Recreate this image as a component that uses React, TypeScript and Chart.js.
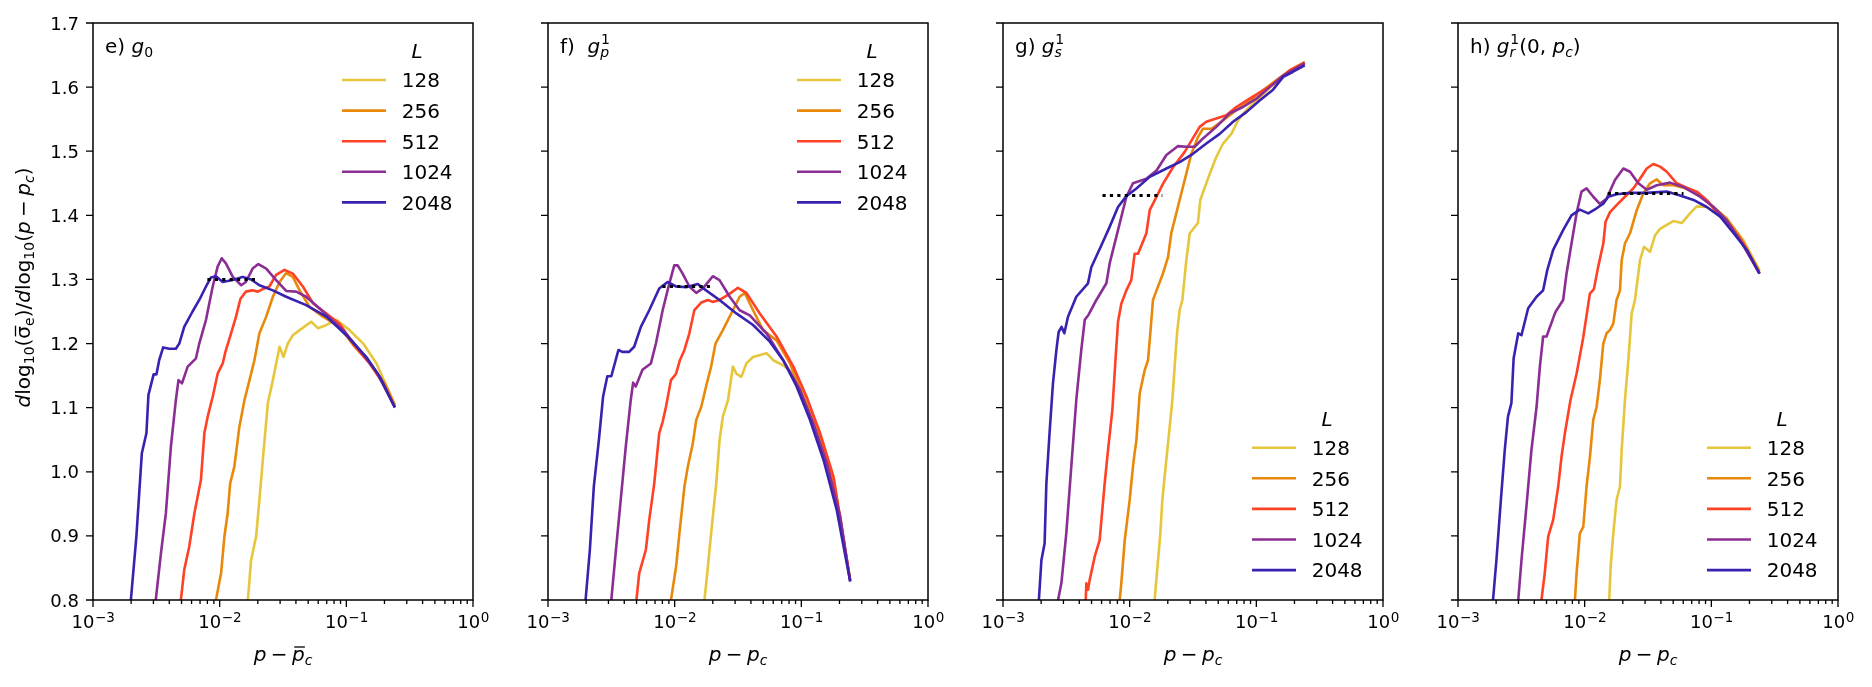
import { useEffect, useRef } from 'react';
import { Chart, registerables } from 'chart.js';

Chart.register(...registerables);

type Pt = [number, number];

// System sizes L and their line colours
const SIZE_LABELS = ['128', '256', '512', '1024', '2048'];
const SIZE_COLORS = ['#e6c63c', '#e8890c', '#ff4125', '#8b2e94', '#3a22b0'];

// Axis ticks
const X_TICKS = [1e-3, 1e-2, 1e-1, 1];
const X_TICK_EXPONENTS = ['−3', '−2', '−1', '0'];
const Y_TICKS = [0.8, 0.9, 1.0, 1.1, 1.2, 1.3, 1.4, 1.5, 1.6, 1.7];
const Y_TICK_LABELS = ['0.8', '0.9', '1.0', '1.1', '1.2', '1.3', '1.4', '1.5', '1.6', '1.7'];

// ---- e) g0 : local slope vs p - pbar_c ----
const G0_128: Pt[] = [[0.0167,0.8],[0.0177,0.862],[0.0194,0.899],[0.0206,0.956],[0.0219,1.018],[0.024,1.107],[0.0263,1.143],[0.0297,1.195],[0.0319,1.179],[0.0345,1.2],[0.0378,1.213],[0.0428,1.221],[0.0528,1.234],[0.0597,1.224],[0.0695,1.229],[0.0834,1.237],[0.106,1.221],[0.136,1.2],[0.173,1.169],[0.2415,1.104]];
const G0_256: Pt[] = [[0.00935,0.8],[0.01026,0.842],[0.0109,0.899],[0.01156,0.935],[0.0121,0.982],[0.01306,1.008],[0.0143,1.07],[0.0157,1.112],[0.0172,1.143],[0.0188,1.174],[0.0206,1.216],[0.0233,1.242],[0.0263,1.273],[0.0297,1.296],[0.0335,1.31],[0.0378,1.304],[0.0428,1.283],[0.0513,1.257],[0.0653,1.242],[0.0885,1.226],[0.113,1.198],[0.153,1.169],[0.201,1.138],[0.2415,1.104]];
const G0_512: Pt[] = [[0.00494,0.8],[0.00525,0.847],[0.00575,0.883],[0.00631,0.935],[0.00711,0.987],[0.00757,1.06],[0.00804,1.086],[0.00881,1.117],[0.00964,1.153],[0.01057,1.169],[0.0111,1.187],[0.0123,1.216],[0.01346,1.242],[0.0146,1.27],[0.0161,1.281],[0.0182,1.283],[0.02,1.281],[0.0219,1.285],[0.0247,1.289],[0.0279,1.307],[0.0325,1.315],[0.0378,1.309],[0.0454,1.289],[0.0545,1.263],[0.0695,1.247],[0.0885,1.231],[0.113,1.2],[0.153,1.169],[0.195,1.138],[0.2415,1.101]];
const G0_1024: Pt[] = [[0.00313,0.8],[0.00344,0.873],[0.00376,0.935],[0.00412,1.039],[0.00451,1.112],[0.00473,1.143],[0.00504,1.138],[0.00559,1.164],[0.0065,1.177],[0.0069,1.2],[0.0078,1.237],[0.00881,1.289],[0.00964,1.32],[0.01038,1.333],[0.0112,1.325],[0.0127,1.304],[0.0148,1.291],[0.0161,1.296],[0.0182,1.317],[0.0202,1.324],[0.0233,1.317],[0.0279,1.299],[0.0335,1.282],[0.0402,1.281],[0.0482,1.273],[0.0653,1.25],[0.0942,1.221],[0.1276,1.19],[0.1726,1.156],[0.2415,1.101]];
const G0_2048: Pt[] = [[0.00199,0.8],[0.0022,0.899],[0.00243,1.029],[0.00264,1.06],[0.00274,1.12],[0.00301,1.152],[0.00317,1.152],[0.00333,1.174],[0.00358,1.194],[0.004,1.192],[0.00451,1.192],[0.0048,1.2],[0.00525,1.226],[0.00611,1.25],[0.0069,1.268],[0.0078,1.289],[0.00853,1.303],[0.00935,1.305],[0.01057,1.296],[0.0127,1.299],[0.0152,1.304],[0.0177,1.3],[0.0206,1.291],[0.0263,1.283],[0.0335,1.273],[0.0482,1.26],[0.0695,1.242],[0.1,1.213],[0.144,1.179],[0.184,1.148],[0.2415,1.1]];
const G0_PLATEAU: Pt[] = [[0.008,1.3],[0.02,1.3]];

// ---- f) g_p^1 ----
const GP_128: Pt[] = [[0.0172,0.8],[0.0183,0.852],[0.0194,0.904],[0.0213,0.982],[0.0226,1.049],[0.024,1.086],[0.0264,1.112],[0.0288,1.164],[0.0307,1.153],[0.0336,1.148],[0.0368,1.169],[0.0416,1.179],[0.0531,1.185],[0.06,1.174],[0.0719,1.166],[0.0865,1.153],[0.11,1.112],[0.1406,1.06],[0.1795,0.992],[0.243,0.831]];
const GP_256: Pt[] = [[0.00935,0.8],[0.01026,0.852],[0.0109,0.904],[0.01194,0.977],[0.0127,1.008],[0.0139,1.044],[0.0148,1.081],[0.0162,1.101],[0.0177,1.133],[0.0194,1.164],[0.021,1.2],[0.024,1.221],[0.028,1.247],[0.0326,1.273],[0.0357,1.279],[0.0416,1.252],[0.0499,1.221],[0.0637,1.205],[0.0813,1.169],[0.1038,1.117],[0.1324,1.065],[0.169,1.003],[0.243,0.831]];
const GP_512: Pt[] = [[0.00499,0.8],[0.00525,0.842],[0.00592,0.878],[0.0063,0.925],[0.0069,0.982],[0.00755,1.06],[0.00804,1.078],[0.00853,1.101],[0.00935,1.143],[0.01026,1.153],[0.011,1.174],[0.01194,1.19],[0.01306,1.216],[0.0143,1.252],[0.0162,1.264],[0.0183,1.268],[0.02,1.265],[0.0226,1.268],[0.0264,1.276],[0.0316,1.287],[0.0368,1.279],[0.047,1.247],[0.0637,1.211],[0.0865,1.164],[0.11,1.117],[0.1406,1.06],[0.1795,0.992],[0.243,0.831]];
const GP_1024: Pt[] = [[0.00316,0.8],[0.00342,0.873],[0.00375,0.956],[0.00411,1.039],[0.0045,1.112],[0.0047,1.139],[0.00493,1.133],[0.00557,1.159],[0.00649,1.169],[0.00711,1.2],[0.00804,1.252],[0.00908,1.294],[0.00993,1.322],[0.01057,1.322],[0.01156,1.309],[0.01306,1.289],[0.0148,1.279],[0.0167,1.286],[0.02,1.305],[0.0226,1.299],[0.0272,1.273],[0.0326,1.252],[0.0392,1.244],[0.0531,1.216],[0.0719,1.174],[0.0975,1.128],[0.1245,1.075],[0.159,1.013],[0.203,0.93],[0.243,0.829]];
const GP_2048: Pt[] = [[0.00198,0.8],[0.00214,0.878],[0.0023,0.977],[0.00252,1.049],[0.00272,1.117],[0.00294,1.149],[0.00316,1.149],[0.0036,1.19],[0.00386,1.187],[0.00437,1.187],[0.00479,1.195],[0.00541,1.226],[0.0063,1.252],[0.00755,1.286],[0.00879,1.296],[0.01026,1.289],[0.0123,1.288],[0.0152,1.293],[0.0177,1.283],[0.0226,1.268],[0.0307,1.247],[0.0416,1.229],[0.0564,1.203],[0.0719,1.174],[0.0918,1.133],[0.117,1.081],[0.15,1.018],[0.1905,0.94],[0.243,0.829]];
const GP_PLATEAU: Pt[] = [[0.008,1.289],[0.02,1.289]];

// ---- g) g_s^1 ----
const GS_128: Pt[] = [[0.01574,0.8],[0.01746,0.904],[0.01811,0.956],[0.01923,1.008],[0.02046,1.06],[0.02173,1.112],[0.02265,1.164],[0.02366,1.216],[0.0248,1.252],[0.02606,1.268],[0.028,1.33],[0.0298,1.372],[0.0346,1.388],[0.0361,1.424],[0.0429,1.465],[0.0483,1.491],[0.0546,1.512],[0.0635,1.527],[0.0716,1.548],[0.0834,1.564],[0.1,1.579],[0.1274,1.599],[0.163,1.617],[0.241,1.639]];
const GS_256: Pt[] = [[0.00834,0.8],[0.00859,0.826],[0.00914,0.893],[0.01,0.956],[0.01062,1.008],[0.01094,1.029],[0.0113,1.049],[0.012,1.122],[0.01312,1.158],[0.01396,1.174],[0.0144,1.205],[0.01528,1.268],[0.0163,1.283],[0.0183,1.309],[0.0201,1.335],[0.0213,1.372],[0.02265,1.393],[0.0248,1.424],[0.028,1.465],[0.0307,1.496],[0.0346,1.522],[0.0379,1.535],[0.0442,1.535],[0.0546,1.548],[0.0695,1.564],[0.0885,1.579],[0.113,1.595],[0.144,1.611],[0.183,1.626],[0.241,1.639]];
const GS_512: Pt[] = [[0.0045,0.8],[0.00455,0.826],[0.00469,0.816],[0.00483,0.831],[0.0053,0.868],[0.00579,0.893],[0.00635,0.982],[0.00675,1.034],[0.0073,1.096],[0.00775,1.179],[0.00809,1.234],[0.00859,1.262],[0.00942,1.283],[0.0103,1.299],[0.01094,1.34],[0.01164,1.34],[0.01355,1.372],[0.0144,1.408],[0.0163,1.429],[0.0183,1.449],[0.022,1.475],[0.0272,1.499],[0.0357,1.538],[0.0403,1.546],[0.0483,1.551],[0.0579,1.556],[0.0695,1.569],[0.0885,1.582],[0.113,1.595],[0.144,1.608],[0.183,1.626],[0.241,1.638]];
const GS_1024: Pt[] = [[0.00272,0.8],[0.00289,0.826],[0.00316,0.904],[0.00346,1.008],[0.00379,1.112],[0.00415,1.19],[0.00442,1.237],[0.00474,1.245],[0.00546,1.268],[0.00655,1.294],[0.00695,1.325],[0.00809,1.377],[0.00942,1.429],[0.01062,1.45],[0.01355,1.457],[0.0163,1.47],[0.0195,1.494],[0.0241,1.508],[0.028,1.507],[0.0326,1.507],[0.0379,1.52],[0.0483,1.538],[0.0615,1.559],[0.0785,1.569],[0.1,1.582],[0.1274,1.6],[0.163,1.618],[0.241,1.637]];
const GS_2048: Pt[] = [[0.00192,0.8],[0.00201,0.862],[0.00213,0.888],[0.0022,0.982],[0.00233,1.06],[0.00248,1.138],[0.00264,1.19],[0.00275,1.218],[0.0029,1.226],[0.00305,1.216],[0.00326,1.242],[0.00379,1.273],[0.00469,1.294],[0.00498,1.319],[0.00597,1.353],[0.00695,1.382],[0.00809,1.413],[0.00942,1.43],[0.0113,1.442],[0.0144,1.46],[0.0195,1.473],[0.0248,1.483],[0.0316,1.496],[0.0403,1.512],[0.0514,1.527],[0.0655,1.546],[0.0834,1.561],[0.1062,1.579],[0.1355,1.596],[0.163,1.616],[0.195,1.624],[0.241,1.634]];
const GS_PLATEAU: Pt[] = [[0.0061,1.431],[0.0181,1.431]];

// ---- h) g_r^1(0, p_c) ----
const GR_128: Pt[] = [[0.01563,0.8],[0.01603,0.852],[0.01683,0.904],[0.01786,0.956],[0.019,0.977],[0.0196,1.034],[0.0208,1.112],[0.02213,1.174],[0.0235,1.247],[0.02495,1.268],[0.02735,1.33],[0.0294,1.351],[0.0328,1.343],[0.036,1.369],[0.0394,1.379],[0.0445,1.385],[0.0501,1.391],[0.0583,1.388],[0.0679,1.403],[0.0767,1.414],[0.092,1.413],[0.1104,1.403],[0.1409,1.387],[0.1795,1.361],[0.24,1.314]];
const GR_256: Pt[] = [[0.00838,0.8],[0.00863,0.842],[0.00916,0.904],[0.00975,0.914],[0.01035,0.977],[0.011,1.023],[0.01169,1.081],[0.01242,1.101],[0.01318,1.143],[0.01403,1.2],[0.01489,1.216],[0.01581,1.221],[0.01683,1.231],[0.01786,1.268],[0.019,1.283],[0.0196,1.33],[0.0208,1.356],[0.0228,1.372],[0.02576,1.408],[0.029,1.434],[0.0328,1.45],[0.0371,1.456],[0.0418,1.447],[0.0501,1.447],[0.064,1.442],[0.0815,1.431],[0.104,1.413],[0.1324,1.395],[0.169,1.366],[0.24,1.312]];
const GR_512: Pt[] = [[0.00456,0.8],[0.00484,0.842],[0.00515,0.899],[0.00564,0.925],[0.00618,0.977],[0.00656,1.023],[0.00698,1.06],[0.00773,1.112],[0.00863,1.153],[0.00975,1.21],[0.011,1.278],[0.01183,1.285],[0.01279,1.32],[0.01403,1.356],[0.01462,1.39],[0.01585,1.405],[0.01786,1.416],[0.0208,1.429],[0.0242,1.442],[0.02735,1.457],[0.0309,1.473],[0.0348,1.48],[0.0394,1.476],[0.0445,1.468],[0.0533,1.45],[0.064,1.443],[0.0767,1.437],[0.092,1.424],[0.1104,1.405],[0.1409,1.382],[0.1795,1.356],[0.24,1.309]];
const GR_1024: Pt[] = [[0.00299,0.8],[0.00317,0.862],[0.00347,0.946],[0.0038,1.034],[0.00417,1.101],[0.00443,1.164],[0.0047,1.211],[0.005,1.211],[0.00582,1.247],[0.006,1.252],[0.00676,1.268],[0.00719,1.309],[0.00787,1.356],[0.00863,1.403],[0.00944,1.437],[0.01035,1.442],[0.01169,1.429],[0.01318,1.418],[0.01489,1.426],[0.01734,1.455],[0.0202,1.473],[0.0228,1.468],[0.02655,1.45],[0.0309,1.44],[0.0371,1.447],[0.0472,1.451],[0.0603,1.444],[0.0815,1.429],[0.104,1.413],[0.1324,1.392],[0.169,1.361],[0.24,1.309]];
const GR_2048: Pt[] = [[0.00189,0.8],[0.00201,0.862],[0.00218,0.956],[0.00234,1.034],[0.00248,1.086],[0.00264,1.107],[0.00275,1.177],[0.00299,1.216],[0.00317,1.213],[0.00358,1.255],[0.00417,1.273],[0.0047,1.283],[0.00506,1.314],[0.00564,1.346],[0.00676,1.377],[0.00787,1.4],[0.00916,1.409],[0.01067,1.403],[0.01242,1.411],[0.01403,1.418],[0.01535,1.429],[0.01786,1.433],[0.0228,1.435],[0.0309,1.435],[0.0445,1.437],[0.0566,1.431],[0.0723,1.424],[0.092,1.413],[0.1175,1.398],[0.15,1.372],[0.1905,1.346],[0.24,1.309]];
const GR_PLATEAU: Pt[] = [[0.0152,1.434],[0.0603,1.434]];

// ---- rich text (italic / sub / sup / overbar) ----
type Seg =
  | { t: string; it?: boolean; sub?: boolean; sup?: boolean; bar?: boolean }
  | { gap: number }
  | { stackSup: string; stackSub: string; subIt?: boolean };

const FAMILY = '"DejaVu Sans", sans-serif';
const fontStr = (size: number, it?: boolean) => `${it ? 'italic ' : ''}${size}px ${FAMILY}`;

function segWidth(ctx: CanvasRenderingContext2D, s: Seg, size: number): number {
  if ('gap' in s) return s.gap * size;
  if ('stackSup' in s) {
    ctx.font = fontStr(size * 0.7);
    const a = ctx.measureText(s.stackSup).width;
    ctx.font = fontStr(size * 0.7, s.subIt);
    const b = ctx.measureText(s.stackSub).width;
    return Math.max(a, b) + 0.04 * size;
  }
  ctx.font = fontStr(s.sub || s.sup ? size * 0.7 : size, s.it);
  return ctx.measureText(s.t).width;
}

function richWidth(ctx: CanvasRenderingContext2D, segs: Seg[], size: number) {
  return segs.reduce((w, s) => w + segWidth(ctx, s, size), 0);
}

function drawRich(ctx: CanvasRenderingContext2D, segs: Seg[], x: number, y: number, size: number) {
  let cx = x;
  ctx.textAlign = 'left';
  ctx.textBaseline = 'alphabetic';
  for (const s of segs) {
    const w = segWidth(ctx, s, size);
    if ('gap' in s) {
      cx += w;
      continue;
    }
    if ('stackSup' in s) {
      ctx.font = fontStr(size * 0.7);
      ctx.fillText(s.stackSup, cx + 0.04 * size, y - 0.45 * size);
      ctx.font = fontStr(size * 0.7, s.subIt);
      ctx.fillText(s.stackSub, cx, y + 0.22 * size);
    } else {
      const small = s.sub || s.sup;
      const dy = s.sub ? 0.2 * size : s.sup ? -0.42 * size : 0;
      ctx.font = fontStr(small ? size * 0.7 : size, s.it);
      ctx.fillText(s.t, cx, y + dy);
      if (s.bar) {
        const by = y + dy - 0.7 * size;
        ctx.save();
        ctx.lineWidth = 1.3;
        ctx.beginPath();
        ctx.moveTo(cx + 0.18 * w, by);
        ctx.lineTo(cx + w * 1.02, by);
        ctx.stroke();
        ctx.restore();
      }
    }
    cx += w;
  }
}

const TAG_E: Seg[] = [{ t: 'e) ' }, { t: 'g', it: true }, { t: '0', sub: true }];
const TAG_F: Seg[] = [{ t: 'f)  ' }, { t: 'g', it: true }, { stackSup: '1', stackSub: 'p', subIt: true }];
const TAG_G: Seg[] = [{ t: 'g) ' }, { t: 'g', it: true }, { stackSup: '1', stackSub: 's', subIt: true }];
const TAG_H: Seg[] = [
  { t: 'h) ' }, { t: 'g', it: true }, { stackSup: '1', stackSub: 'r', subIt: true },
  { t: '(0, ' }, { t: 'p', it: true }, { t: 'c', it: true, sub: true }, { t: ')' },
];
const X_TITLE_BAR: Seg[] = [{ t: 'p', it: true }, { gap: 0.22 }, { t: '−' }, { gap: 0.22 }, { t: 'p', it: true, bar: true }, { t: 'c', it: true, sub: true }];
const X_TITLE: Seg[] = [{ t: 'p', it: true }, { gap: 0.22 }, { t: '−' }, { gap: 0.22 }, { t: 'p', it: true }, { t: 'c', it: true, sub: true }];
const Y_TITLE: Seg[] = [
  { t: 'd', it: true }, { t: 'log' }, { t: '10', sub: true }, { t: '(' }, { t: 'σ', bar: true }, { t: 'e', sub: true }, { t: ')/' },
  { t: 'd', it: true }, { t: 'log' }, { t: '10', sub: true }, { t: '(' }, { t: 'p', it: true }, { gap: 0.22 }, { t: '−' }, { gap: 0.22 },
  { t: 'p', it: true }, { t: 'c', it: true, sub: true }, { t: ')' },
];

type PanelCfg = {
  id: string;
  plotLeft: number;
  tag: Seg[];
  xTitle: Seg[];
  yLabels: boolean;
  legend: 'top' | 'bottom';
  series: Pt[][];
  plateau: Pt[];
};

const PANELS: PanelCfg[] = [
  { id: 'g0', plotLeft: 93, tag: TAG_E, xTitle: X_TITLE_BAR, yLabels: true, legend: 'top', series: [G0_128, G0_256, G0_512, G0_1024, G0_2048], plateau: G0_PLATEAU },
  { id: 'gp', plotLeft: 548, tag: TAG_F, xTitle: X_TITLE, yLabels: false, legend: 'top', series: [GP_128, GP_256, GP_512, GP_1024, GP_2048], plateau: GP_PLATEAU },
  { id: 'gs', plotLeft: 1003, tag: TAG_G, xTitle: X_TITLE, yLabels: false, legend: 'bottom', series: [GS_128, GS_256, GS_512, GS_1024, GS_2048], plateau: GS_PLATEAU },
  { id: 'gr', plotLeft: 1458, tag: TAG_H, xTitle: X_TITLE, yLabels: false, legend: 'bottom', series: [GR_128, GR_256, GR_512, GR_1024, GR_2048], plateau: GR_PLATEAU },
];

const Y_AXIS_W = 93;
const PLOT_W = 380;
const RIGHT_PAD = 30;
const TOP_PAD = 23;
const X_AXIS_H = 87;
const CANVAS_W = Y_AXIS_W + PLOT_W + RIGHT_PAD;
const CANVAS_H = 687;

function decorPlugin(cfg: PanelCfg) {
  return {
    id: 'panelDecor',
    afterDraw(chart: any) {
      const ctx: CanvasRenderingContext2D = chart.ctx;
      const a = chart.chartArea;
      const xs = chart.scales.x;
      const ys = chart.scales.y;
      ctx.save();
      ctx.fillStyle = '#000';
      ctx.strokeStyle = '#000';

      // frame
      ctx.lineWidth = 1.5;
      ctx.strokeRect(a.left, a.top, a.right - a.left, a.bottom - a.top);

      // tick marks (outward)
      ctx.lineWidth = 1.3;
      ctx.beginPath();
      X_TICKS.forEach((v) => {
        const px = xs.getPixelForValue(v);
        ctx.moveTo(px, a.bottom);
        ctx.lineTo(px, a.bottom + 7);
      });
      for (let d = 0; d < X_TICKS.length - 1; d++) {
        for (let k = 2; k <= 9; k++) {
          const px = xs.getPixelForValue(X_TICKS[d] * k);
          ctx.moveTo(px, a.bottom);
          ctx.lineTo(px, a.bottom + 4);
        }
      }
      Y_TICKS.forEach((v) => {
        const py = ys.getPixelForValue(v);
        ctx.moveTo(a.left - 7, py);
        ctx.lineTo(a.left, py);
      });
      ctx.stroke();

      // x tick labels 10^n
      ctx.textBaseline = 'alphabetic';
      ctx.textAlign = 'left';
      X_TICKS.forEach((v, i) => {
        const px = xs.getPixelForValue(v);
        ctx.font = fontStr(18);
        const wb = ctx.measureText('10').width;
        ctx.font = fontStr(13.5);
        const we = ctx.measureText(X_TICK_EXPONENTS[i]).width;
        const x0 = px - (wb + we) / 2;
        ctx.font = fontStr(18);
        ctx.fillText('10', x0, a.bottom + 28);
        ctx.font = fontStr(13.5);
        ctx.fillText(X_TICK_EXPONENTS[i], x0 + wb + 0.5, a.bottom + 21.5);
      });

      // y tick labels
      if (cfg.yLabels) {
        ctx.font = fontStr(18);
        ctx.textAlign = 'right';
        Y_TICKS.forEach((v, i) => {
          const py = ys.getPixelForValue(v);
          ctx.fillText(Y_TICK_LABELS[i], a.left - 14, py + 6.5);
        });
        ctx.textAlign = 'left';
      }

      // panel tag
      drawRich(ctx, cfg.tag, a.left + 12, a.top + 30, 20);

      // x title
      const xw = richWidth(ctx, cfg.xTitle, 20);
      drawRich(ctx, cfg.xTitle, (a.left + a.right) / 2 - xw / 2, 661, 20);

      // y title
      if (cfg.yLabels) {
        const yw = richWidth(ctx, Y_TITLE, 20);
        ctx.save();
        ctx.translate(29.5, (a.top + a.bottom) / 2 - 24);
        ctx.rotate(-Math.PI / 2);
        drawRich(ctx, Y_TITLE, -yw / 2, 0, 20);
        ctx.restore();
      }

      // legend
      const step = 30.6;
      const firstRow = cfg.legend === 'top' ? a.top + 57 : a.bottom - 152.3;
      const titleY = firstRow - 29.5;
      ctx.font = fontStr(20, true);
      ctx.textAlign = 'center';
      ctx.fillText('L', a.right - 56, titleY + 7.3);
      ctx.textAlign = 'left';
      const items = chart.data.datasets.filter((d: any) => SIZE_LABELS.includes(d.label));
      items.forEach((d: any, i: number) => {
        const ry = firstRow + step * i;
        ctx.strokeStyle = d.borderColor;
        ctx.lineWidth = 2.6;
        ctx.beginPath();
        ctx.moveTo(a.right - 131, ry);
        ctx.lineTo(a.right - 87, ry);
        ctx.stroke();
        ctx.font = fontStr(20);
        ctx.fillText(d.label, a.right - 71.3, ry + 7.3);
      });

      ctx.restore();
    },
  };
}

function Panel({ cfg }: { cfg: PanelCfg }) {
  const ref = useRef<HTMLCanvasElement>(null);

  useEffect(() => {
    const canvas = ref.current;
    if (!canvas) return;
    const datasets: any[] = cfg.series.map((pts, i) => ({
      label: SIZE_LABELS[i],
      data: pts.map(([x, y]) => ({ x, y })),
      borderColor: SIZE_COLORS[i],
      borderWidth: 2.6,
      pointRadius: 0,
      tension: 0,
      fill: false,
      borderJoinStyle: 'round',
      order: SIZE_LABELS.length - i,
    }));
    datasets.push({
      label: 'plateau',
      data: cfg.plateau.map(([x, y]) => ({ x, y })),
      borderColor: '#000',
      borderWidth: 3,
      borderDash: [3.2, 4.2],
      pointRadius: 0,
      fill: false,
      order: 0,
    });

    const chart = new Chart(canvas, {
      type: 'line',
      data: { datasets },
      options: {
        animation: false,
        responsive: false,
        devicePixelRatio: 1,
        events: [],
        layout: { padding: { top: TOP_PAD, right: RIGHT_PAD, left: 0, bottom: 0 } },
        plugins: { legend: { display: false }, tooltip: { enabled: false }, title: { display: false } },
        scales: {
          x: {
            type: 'logarithmic',
            min: 1e-3,
            max: 1,
            afterBuildTicks: (s: any) => {
              s.ticks = X_TICKS.map((v) => ({ value: v }));
            },
            afterFit: (s: any) => {
              s.height = X_AXIS_H;
            },
            ticks: { display: false },
            grid: { display: false },
            border: { display: false },
          },
          y: {
            type: 'linear',
            min: 0.8,
            max: 1.7,
            afterBuildTicks: (s: any) => {
              s.ticks = Y_TICKS.map((v) => ({ value: v }));
            },
            afterFit: (s: any) => {
              s.width = Y_AXIS_W;
            },
            ticks: { display: false },
            grid: { display: false },
            border: { display: false },
          },
        },
      } as any,
      plugins: [decorPlugin(cfg)],
    });
    return () => chart.destroy();
  }, [cfg]);

  return (
    <canvas
      ref={ref}
      width={CANVAS_W}
      height={CANVAS_H}
      style={{ position: 'absolute', left: cfg.plotLeft - Y_AXIS_W, top: 0, width: CANVAS_W, height: CANVAS_H }}
    />
  );
}

export default function App() {
  return (
    <div style={{ position: 'fixed', left: 0, top: 0, width: 1872, height: 687, background: '#fff', overflow: 'hidden' }}>
      {PANELS.map((p) => (
        <Panel key={p.id} cfg={p} />
      ))}
    </div>
  );
}
